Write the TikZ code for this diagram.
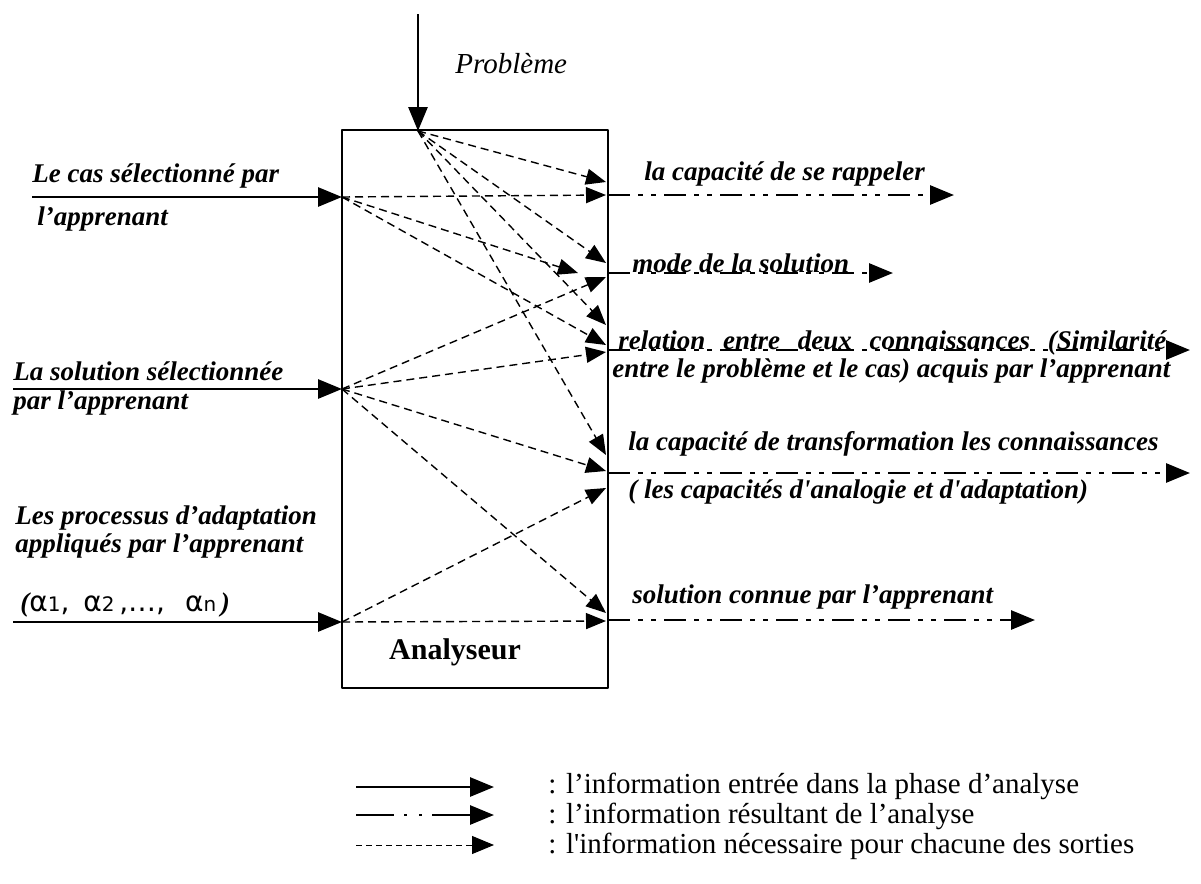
\documentclass[tikz,border=0pt]{standalone}
\usepackage{fontspec}
\setmainfont{Liberation Serif}
\newfontfamily\alphafont{DejaVu Sans}
\usetikzlibrary{arrows.meta}
\begin{document}
\begin{tikzpicture}[x=0.5pt, y=-0.5pt, line join=round,
    lbl/.style={inner sep=0pt, anchor=base west, font=\fontsize{13.5}{15}\selectfont\bfseries\itshape},
    leg/.style={inner sep=0pt, anchor=base west, font=\fontsize{14.5}{16}\selectfont},
    input/.style={line width=1.4pt, -{Triangle[length=12pt, width=9.5pt]}},
    result/.style={line width=1.4pt, dash pattern=on 11pt off 4pt on 2.5pt off 4pt on 2.5pt off 4pt, -{Triangle[length=12pt, width=9.5pt]}},
    need/.style={line width=0.7pt, dash pattern=on 4pt off 2.5pt, -{Triangle[length=10pt, width=8pt]}}]
\useasboundingbox (0,0) rectangle (1201,884);

\node[draw, line width=0.8pt, minimum width=133pt, minimum height=279pt, inner sep=0pt] (ana) at (475,409) {};
\node[inner sep=0pt, font=\fontsize{15}{17}\selectfont\bfseries] (anatxt) at (455,652) {Analyseur};

\coordinate (P) at (418,131);
\coordinate (A) at (342,197);
\coordinate (B) at (342,389);
\coordinate (C) at (342,622);
\coordinate (p0) at (418,14);
\coordinate (a0) at (32,197);
\coordinate (b0) at (13,389);
\coordinate (c0) at (13,622);

\draw[input] (p0) -- (P);
\draw[input] (a0) -- (A);
\draw[input] (b0) -- (B);
\draw[input] (c0) -- (C);

\node[inner sep=0pt, anchor=base west, font=\fontsize{14.5}{16}\selectfont\itshape] (prob) at (455,73) {Problème};
\node[lbl] (ina1) at (32,182) {Le cas sélectionné par};
\node[lbl] (ina2) at (37,225) {l’apprenant};
\node[lbl] (inb1) at (13,380) {La solution sélectionnée};
\node[lbl] (inb2) at (13,409) {par l’apprenant};
\node[lbl] (inc1) at (15,524) {Les processus d’adaptation};
\node[lbl] (inc2) at (15,552) {appliqués par l’apprenant};
\node[lbl] (inc3) at (20,611) {({\mdseries\upshape\alphafont\fontsize{14}{16}\selectfont α{\fontsize{10}{12}\selectfont 1},\hspace{7pt}α{\fontsize{10}{12}\selectfont 2}\,,…,\hspace{10pt}α{\fontsize{10}{12}\selectfont n}}\,)};

\coordinate (o1) at (608,195);
\coordinate (o2) at (608,273);
\coordinate (o3) at (608,350);
\coordinate (o4) at (608,473);
\coordinate (o5) at (608,620);
\coordinate (o1e) at (954,195);
\coordinate (o2e) at (893,273);
\coordinate (o3e) at (1190,350);
\coordinate (o4e) at (1190,473);
\coordinate (o5e) at (1035,620);

\draw[result] (o1) -- (o1e);
\draw[result] (o2) -- (o2e);
\draw[result] (o3) -- (o3e);
\draw[result] (o4) -- (o4e);
\draw[result] (o5) -- (o5e);

\node[lbl] (out1) at (644,180) {la capacité de se rappeler};
\node[lbl] (out2) at (632,272) {mode de la solution};
\node[lbl] (out3a) at (618,349) {\makebox[274pt][s]{relation entre deux connaissances (Similarité}};
\node[lbl] (out3b) at (612,377) {entre le problème et le cas) acquis par l’apprenant};
\node[lbl] (out4a) at (628,450) {la capacité de transformation les connaissances};
\node[lbl] (out4b) at (628,498) {( les capacités d\textquotesingle analogie et d\textquotesingle adaptation)};
\node[lbl] (out5) at (632,603) {solution connue par l’apprenant};

\coordinate (t1a) at (606,182);
\coordinate (t1b) at (606,195);
\coordinate (t2a) at (606,263);
\coordinate (t2x) at (578,273);
\coordinate (t2b) at (606,277);
\coordinate (t3a) at (606,325);
\coordinate (t3b) at (606,345);
\coordinate (t3c) at (606,352);
\coordinate (t4a) at (606,455);
\coordinate (t4b) at (606,471);
\coordinate (t4c) at (606,488);
\coordinate (t5a) at (606,613);
\coordinate (t5b) at (606,621);

\draw[need] (P) -- (t1a);
\draw[need] (P) -- (t2a);
\draw[need] (P) -- (t3a);
\draw[need] (P) -- (t4a);
\draw[need] (A) -- (t1b);
\draw[need] (A) -- (t2x);
\draw[need] (A) -- (t3b);
\draw[need] (B) -- (t2b);
\draw[need] (B) -- (t3c);
\draw[need] (B) -- (t4b);
\draw[need] (B) -- (t5a);
\draw[need] (C) -- (t4c);
\draw[need] (C) -- (t5b);

\coordinate (l1) at (356,787);
\coordinate (l2) at (356,815);
\coordinate (l3) at (356,845);
\coordinate (l1e) at (494,787);
\coordinate (l2e) at (494,815);
\coordinate (l3e) at (494,845);
\draw[input] (l1) -- (l1e);
\draw[line width=1.4pt, dash pattern=on 19pt off 5pt on 1.5pt off 6pt on 1.5pt off 5pt on 40pt, -{Triangle[length=12pt, width=9.5pt]}] (l2) -- (l2e);
\draw[line width=0.5pt, dash pattern=on 3pt off 2pt, -{Triangle[length=11pt, width=9pt]}] (l3) -- (l3e);
\node[leg] (leg1) at (548,793) {: l’information entrée dans la phase d’analyse};
\node[leg] (leg2) at (548,823) {: l’information résultant de l’analyse};
\node[leg] (leg3) at (548,853) {: l\textquotesingle information nécessaire pour chacune des sorties};
\end{tikzpicture}
\end{document}
